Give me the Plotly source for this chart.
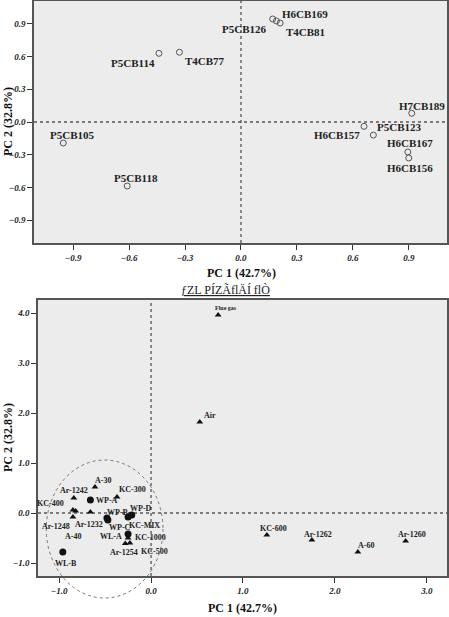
import plotly.graph_objects as go

# ---------------- data ----------------
top_labels = ["P5CB114", "T4CB77", "H6CB169", "P5CB126", "T4CB81", "H7CB189",
              "P5CB123", "H6CB157", "H6CB167", "H6CB156", "P5CB105", "P5CB118"]
top_pc1 = [-0.44, -0.33, 0.17, 0.19, 0.21, 0.916, 0.66, 0.71, 0.895, 0.90, -0.953, -0.61]
top_pc2 = [0.63, 0.64, 0.945, 0.927, 0.908, 0.08, -0.04, -0.12, -0.275, -0.33, -0.193, -0.587]
top_ticks = [-0.9, -0.6, -0.3, 0.0, 0.3, 0.6, 0.9]

bot_labels = ["Flue gas", "Air", "A-30", "Ar-1242", "KC-300", "WP-A", "KC-400", "Ar-1248",
              "A-40", "Ar-1232", "WP-B", "WP-C", "WP-D", "KC-MIX", "WL-A", "KC-1000",
              "Ar-1254", "KC-500", "WL-B", "KC-600", "Ar-1262", "A-60", "Ar-1260"]
bot_pc1 = [0.73, 0.53, -0.61, -0.84, -0.37, -0.66, -0.85, -0.85,
           -0.82, -0.66, -0.48, -0.47, -0.21, -0.25, -0.25, -0.25,
           -0.28, -0.23, -0.96, 1.26, 1.75, 2.25, 2.77]
bot_pc2 = [3.96, 1.82, 0.52, 0.30, 0.32, 0.26, 0.06, -0.08,
           0.04, 0.02, -0.10, -0.14, -0.04, -0.08, -0.42, -0.50,
           -0.61, -0.60, -0.78, -0.44, -0.54, -0.78, -0.56]
bot_kind = ["tri", "tri", "tri", "tri", "tri", "circ", "tri", "tri",
            "tri", "tri", "circ", "circ", "circ", "circ", "circ", "tri",
            "tri", "tri", "circ", "tri", "tri", "tri", "tri"]
bot_xticks = [-1.0, 0.0, 1.0, 2.0, 3.0]
bot_yticks = [-1.0, 0.0, 1.0, 2.0, 3.0, 4.0]

# ---------------- label placement (style) ----------------
top_lab_pos = [("right", -2, -10), ("left", 4, -9), ("left", 7, 5), ("right", -7, -8),
               ("left", 4, -9), ("center", 10, 7), ("left", 11, -1), ("right", -11, 0),
               ("center", 2, 9), ("center", 1, -10), ("center", 9, 8), ("center", 9, 8)]
bot_lab_pos = [("center", 8, 7), ("left", 2, 7), ("left", -2, 7), ("center", 0, 8),
               ("left", 0, 8), ("left", 4, 0), ("right", -7, 7), ("center", -17, -9),
               ("center", -3, -25), ("center", -1, -12), ("left", -2, 6), ("left", -1, -7),
               ("left", -4, 7), ("left", -1, -8), ("right", -4, -2), ("left", 5, 1),
               ("center", -1, -9), ("left", 9, -8), ("center", 3, -11), ("center", 7, 7),
               ("center", 6, 6), ("left", -2, 7), ("center", 6, 7)]

W, H = 449, 617
FONT = "Liberation Serif"
top_xr = [-1.11, 1.105]
top_yr = [-1.11, 1.11]
bot_xr = [-1.23, 3.22]
bot_yr = [-1.26, 4.26]

fig = go.Figure()

fig.add_trace(go.Scatter(
    x=top_pc1, y=top_pc2, mode="markers", xaxis="x", yaxis="y",
    marker=dict(symbol="circle-open", size=6, color="#555555", line=dict(width=1)),
    showlegend=False, hoverinfo="skip"))

tri_x = [x for x, k in zip(bot_pc1, bot_kind) if k == "tri"]
tri_y = [y for y, k in zip(bot_pc2, bot_kind) if k == "tri"]
cir_x = [x for x, k in zip(bot_pc1, bot_kind) if k == "circ"]
cir_y = [y for y, k in zip(bot_pc2, bot_kind) if k == "circ"]
fig.add_trace(go.Scatter(
    x=tri_x, y=tri_y, mode="markers", xaxis="x2", yaxis="y2",
    marker=dict(symbol="triangle-up", size=6, color="#111111"),
    showlegend=False, hoverinfo="skip"))
fig.add_trace(go.Scatter(
    x=cir_x, y=cir_y, mode="markers", xaxis="x2", yaxis="y2",
    marker=dict(symbol="circle", size=7, color="#111111"),
    showlegend=False, hoverinfo="skip"))

annotations = []
for lab, x, y, (xa, xs, ys) in zip(top_labels, top_pc1, top_pc2, top_lab_pos):
    annotations.append(dict(x=x, y=y, xref="x", yref="y", text=lab, showarrow=False,
                            xanchor=xa, yanchor="middle", xshift=xs, yshift=ys,
                            font=dict(family=FONT, size=11, color="#222222", weight="bold")))
for lab, x, y, (xa, xs, ys) in zip(bot_labels, bot_pc1, bot_pc2, bot_lab_pos):
    sz = 6 if lab == "Flue gas" else 8
    annotations.append(dict(x=x, y=y, xref="x2", yref="y2", text=lab, showarrow=False,
                            xanchor=xa, yanchor="middle", xshift=xs, yshift=ys,
                            font=dict(family=FONT, size=sz, color="#222222", weight="bold")))

def px(xp):
    return xp / W

def py(yp):
    return 1 - yp / H

title_font = dict(family=FONT, size=12, color="#111111", weight="bold")
annotations += [
    dict(x=px(241), y=py(273), xref="paper", yref="paper", text="PC 1 (42.7%)",
         showarrow=False, xanchor="center", yanchor="middle", font=title_font),
    dict(x=px(242), y=py(608), xref="paper", yref="paper", text="PC 1 (42.7%)",
         showarrow=False, xanchor="center", yanchor="middle", font=title_font),
    dict(x=px(-1), y=py(122), xref="paper", yref="paper", text="PC 2 (32.8%)",
         showarrow=False, textangle=-90, xanchor="left", yanchor="middle", font=title_font),
    dict(x=px(-1), y=py(438), xref="paper", yref="paper", text="PC 2 (32.8%)",
         showarrow=False, textangle=-90, xanchor="left", yanchor="middle", font=title_font),
    dict(x=px(225), y=py(290), xref="paper", yref="paper", text="<u>ƒZL PÍZÃflÄÍ flÒ</u>",
         showarrow=False, xanchor="center", yanchor="middle",
         font=dict(family=FONT, size=12, color="#222222")),
]

shapes = []
dot = dict(color="#555555", width=1.3, dash="dot")
shapes.append(dict(type="line", xref="x", yref="y domain", x0=0, x1=0, y0=0, y1=1, line=dot, layer="below"))
shapes.append(dict(type="line", xref="x domain", yref="y", x0=0, x1=1, y0=0, y1=0, line=dot, layer="below"))
shapes.append(dict(type="line", xref="x2", yref="y2 domain", x0=0, x1=0, y0=0, y1=1, line=dot, layer="below"))
shapes.append(dict(type="line", xref="x2 domain", yref="y2", x0=0, x1=1, y0=0, y1=0, line=dot, layer="below"))

# dotted cluster ellipse (drawn in domain coordinates so it is not clipped)
cx0, cx1, cy0, cy1 = -1.14, 0.13, -1.70, 1.06
def fx(v):
    return (v - bot_xr[0]) / (bot_xr[1] - bot_xr[0])
def fy(v):
    return (v - bot_yr[0]) / (bot_yr[1] - bot_yr[0])
shapes.append(dict(type="circle", xref="x2 domain", yref="y2 domain",
                   x0=fx(cx0), x1=fx(cx1), y0=fy(cy0), y1=fy(cy1),
                   line=dict(color="#777777", width=1, dash="dot")))

tickfont = dict(family=FONT, size=9, color="#222222", style="italic", weight="bold")
axis_common = dict(showgrid=False, zeroline=False, showline=True, mirror=True,
                   linecolor="#555555", linewidth=1.5, ticks="outside", ticklen=5,
                   tickcolor="#333333", tickwidth=1, tickfont=tickfont, tickformat=".1f")

fig.update_layout(
    width=W, height=H, margin=dict(l=0, r=0, t=0, b=0),
    paper_bgcolor="white", plot_bgcolor="#ececec",
    xaxis=dict(domain=[34 / W, 447 / W], range=top_xr, tickvals=top_ticks, anchor="y", **axis_common),
    yaxis=dict(domain=[py(243), py(1)], range=top_yr, tickvals=top_ticks, anchor="x", **axis_common),
    xaxis2=dict(domain=[38 / W, 447 / W], range=bot_xr, tickvals=bot_xticks, anchor="y2", **axis_common),
    yaxis2=dict(domain=[py(576), py(300)], range=bot_yr, tickvals=bot_yticks, anchor="x2", **axis_common),
    annotations=annotations, shapes=shapes,
)

fig.write_html("out.html")
